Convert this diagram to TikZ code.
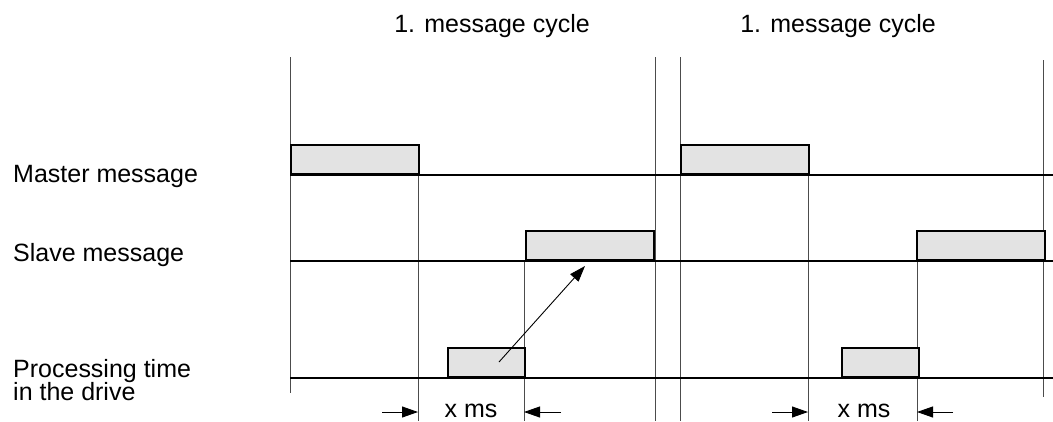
\documentclass[tikz,border=0pt]{standalone}
\usepackage{fontspec}
\setmainfont{Liberation Sans}
\usetikzlibrary{positioning,arrows.meta}

\begin{document}
\begin{tikzpicture}[%
    x=1pt,y=-1pt,
    font=\fontsize{25}{23}\selectfont,
    msgbox/.style={rectangle,draw,line width=2pt,fill=black!11,
      minimum width=128pt,minimum height=29pt,inner sep=0pt,anchor=south west},
    procbox/.style={msgbox,minimum width=77pt},
    grid/.style={line width=0.9pt,black!70},
    track/.style={line width=1.3pt},
    tip/.style={-{Triangle[length=16pt,width=11pt]},line width=0.9pt},
    lbl/.style={inner sep=0pt,anchor=base west},
    ttl/.style={inner sep=0pt,anchor=base}
  ]
    \useasboundingbox (0,0) rectangle (1053,421);
    % cycle borders and edges
    \draw[grid] (290,57) -- (290,393)
                (655,57) -- (655,421)
                (680,57) -- (680,421)
                (1043,60) -- (1043,397);
    \draw[grid] (418,146) -- (418,421)
                (524,261) -- (524,421)
                (808,146) -- (808,421)
                (917,261) -- (917,421);
    % time lines
    \draw[track] (290,175) -- (1053,175)
                 (290,261) -- (1053,261)
                 (290,378) -- (1053,378);
    % messages
    \node[msgbox] (mst1) at (290,175) {};
    \node[msgbox] (slv1) at (525,261) {};
    \node[procbox] (prc1) at (447,378) {};
    \node[msgbox] (mst2) at (680,175) {};
    \node[msgbox] (slv2) at (916,261) {};
    \node[procbox] (prc2) at (841,378) {};
    % labels
    \node[ttl] (cyc1) at (492,32) {1. message cycle};
    \node[ttl] (cyc2) at (838,32) {1. message cycle};
    \node[lbl] (lmst) at (13,182) {Master message};
    \node[lbl] (lslv) at (13,261) {Slave message};
    \node[lbl] (lprc) at (13,377) {Processing time};
    \node[lbl] (ldrv) at (13,400) {in the drive};
    % processing result
    \coordinate (go) at (499,362);
    \coordinate (res) at (585,266);
    \draw[tip] (go) -- (res);
    % x ms
    \node[ttl] (xms1) at (471,417) {x ms};
    \node[ttl] (xms2) at (864,417) {x ms};
    \coordinate (l1) at (382,412); \coordinate (r1) at (561,412);
    \coordinate (l2) at (772,412); \coordinate (r2) at (953,412);
    \draw[tip] (l1) -- (418,412);
    \draw[tip] (r1) -- (524,412);
    \draw[tip] (l2) -- (808,412);
    \draw[tip] (r2) -- (917,412);
\end{tikzpicture}
\end{document}
